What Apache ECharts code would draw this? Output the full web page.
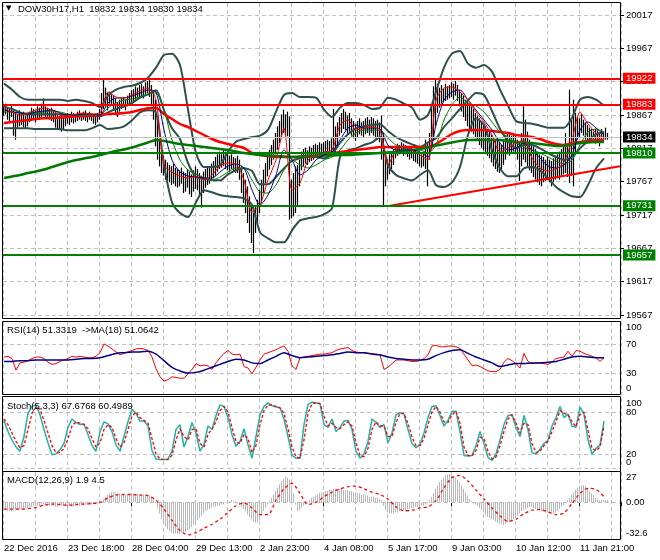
<!DOCTYPE html>
<html><head><meta charset="utf-8">
<script src="https://cdn.jsdelivr.net/npm/echarts@6/dist/echarts.min.js"></script>
<style>html,body{margin:0;padding:0;background:#fff}#c{width:660px;height:560px}</style>
</head><body><div id="c"></div>
<script>
// ---------- data ----------
const timeLabels = ['22 Dec 2016','23 Dec 18:00','28 Dec 04:00','29 Dec 13:00','2 Jan 23:00','4 Jan 08:00','5 Jan 17:00','9 Jan 03:00','10 Jan 12:00','11 Jan 21:00'];
const priceTicks = [19567,19617,19667,19717,19767,19817,19867,19917,19967,20017];
const redLevels = [19922, 19883];
const greenLevels = [19810, 19731, 19657];
const lastPrice = 19834;
const trendLine = [[193, 19731], [308, 19790]];

const highs = [19880,19884,19878,19876,19882,19875,19870,19868,19874,19870,
19872,19866,19868,19872,19878,19876,19874,19880,19878,19884,
19892,19880,19878,19876,19878,19874,19872,19868,19866,19868,
19864,19866,19870,19868,19872,19870,19868,19872,19874,19870,
19872,19874,19870,19872,19868,19866,19868,19870,19876,19900,
19920,19908,19900,19902,19898,19896,19892,19886,19890,19892,
19894,19890,19896,19900,19904,19906,19910,19908,19912,19914,
19910,19916,19918,19920,19912,19904,19890,19860,19830,19812,
19806,19800,19796,19792,19790,19794,19788,19786,19784,19788,
19782,19780,19786,19782,19778,19784,19790,19786,19780,19776,
19782,19786,19790,19788,19794,19798,19804,19808,19812,19808,
19814,19812,19810,19806,19808,19804,19802,19806,19800,19790,
19780,19770,19760,19745,19730,19720,19730,19740,19755,19770,
19785,19795,19805,19815,19822,19830,19840,19850,19858,19868,
19875,19868,19872,19865,19770,19780,19790,19792,19800,19812,
19816,19818,19814,19820,19818,19822,19824,19822,19826,19824,
19826,19828,19830,19828,19832,19876,19850,19856,19864,19870,
19876,19872,19866,19870,19862,19858,19854,19858,19862,19856,
19858,19862,19864,19860,19864,19862,19858,19860,19856,19866,
19840,19812,19800,19808,19812,19816,19820,19824,19822,19826,
19824,19822,19820,19818,19820,19816,19814,19812,19810,19808,
19812,19830,19826,19840,19880,19910,19920,19914,19908,19912,
19906,19914,19910,19912,19916,19914,19918,19912,19904,19900,
19896,19890,19888,19884,19880,19876,19870,19866,19862,19858,
19854,19850,19846,19842,19838,19834,19830,19832,19826,19822,
19828,19836,19840,19838,19836,19840,19836,19830,19826,19840,
19880,19860,19842,19830,19826,19820,19816,19812,19808,19806,
19804,19800,19804,19800,19798,19802,19806,19808,19812,19816,
19820,19840,19820,19905,19860,19890,19870,19864,19862,19868,
19860,19856,19852,19848,19846,19842,19846,19844,19840,19846,
19842,19848,19840];
const lows = [19866,19868,19860,19858,19864,19836,19830,19846,19850,19852,
19848,19846,19850,19856,19858,19860,19856,19862,19860,19864,
19866,19864,19862,19860,19858,19856,19848,19846,19844,19842,
19846,19850,19854,19852,19856,19854,19856,19858,19860,19858,
19860,19858,19856,19860,19858,19854,19852,19856,19860,19866,
19876,19880,19874,19884,19882,19876,19870,19864,19872,19876,
19878,19874,19880,19882,19886,19888,19890,19890,19894,19894,
19892,19898,19900,19894,19880,19860,19820,19800,19790,19780,
19776,19770,19768,19766,19762,19764,19760,19758,19760,19764,
19750,19752,19758,19748,19744,19752,19756,19754,19746,19728,
19750,19758,19762,19764,19768,19772,19776,19782,19786,19788,
19790,19786,19784,19782,19786,19782,19780,19780,19770,19750,
19735,19720,19705,19690,19675,19660,19690,19705,19720,19735,
19750,19765,19775,19785,19792,19800,19808,19815,19825,19832,
19840,19836,19835,19710,19712,19715,19720,19730,19760,19784,
19790,19794,19792,19796,19798,19800,19804,19802,19806,19804,
19808,19806,19810,19808,19810,19812,19806,19820,19836,19840,
19846,19844,19838,19842,19836,19832,19828,19834,19838,19836,
19834,19838,19840,19836,19840,19836,19832,19830,19826,19800,
19732,19760,19770,19778,19786,19792,19802,19806,19808,19810,
19806,19808,19804,19800,19802,19798,19796,19794,19790,19788,
19790,19786,19760,19800,19820,19830,19850,19870,19878,19884,
19886,19888,19890,19892,19894,19890,19896,19888,19880,19872,
19864,19858,19850,19846,19842,19838,19832,19828,19822,19818,
19814,19810,19806,19802,19796,19790,19786,19782,19780,19786,
19792,19800,19808,19806,19810,19812,19808,19800,19768,19790,
19800,19796,19790,19784,19780,19774,19770,19766,19762,19760,
19766,19768,19770,19766,19760,19766,19770,19772,19770,19776,
19778,19780,19774,19765,19776,19760,19810,19830,19834,19840,
19836,19830,19826,19828,19830,19826,19824,19830,19820,19828,
19828,19830,19830];

// indicator lines on the price panel, one value every 4 bars
const lineStep = 4;
const bbUpper = [19914,19905,19894,19890,19890,19890,19890,19890,19888,19890,19888,19885,19879,19896,19905,19909,19911,19915,19923,19938,19957,19959,19942,19875,19810,19789,19789,19792,19812,19827,19831,19834,19836,19845,19872,19897,19900,19894,19894,19893,19875,19864,19878,19885,19885,19882,19876,19878,19893,19890,19884,19878,19860,19867,19902,19938,19959,19963,19944,19938,19942,19932,19905,19881,19858,19855,19854,19851,19848,19848,19848,19863,19890,19894,19890,19881];
const bbMiddle = [19880,19876,19871,19868,19868,19868,19868,19868,19866,19867,19866,19866,19865,19871,19876,19880,19885,19893,19898,19904,19874,19847,19831,19795,19774,19772,19769,19769,19778,19784,19787,19783,19763,19763,19774,19787,19798,19802,19804,19804,19802,19808,19825,19838,19847,19850,19852,19853,19843,19834,19828,19823,19819,19826,19832,19849,19862,19876,19889,19900,19897,19873,19846,19828,19817,19822,19822,19817,19810,19804,19800,19804,19817,19828,19838,19841];
const bbLower = [19847,19847,19847,19847,19846,19846,19846,19846,19844,19844,19844,19847,19852,19846,19847,19850,19859,19871,19874,19871,19792,19736,19720,19714,19736,19754,19751,19747,19745,19744,19742,19732,19691,19682,19676,19676,19694,19709,19712,19714,19718,19727,19804,19814,19817,19822,19826,19834,19792,19777,19772,19769,19777,19784,19762,19759,19766,19789,19837,19862,19852,19814,19787,19775,19775,19787,19789,19784,19772,19759,19751,19745,19744,19762,19787,19802];
const maSlowRed = [19855,19856.5,19858,19859.5,19861,19862,19862.5,19863,19864,19865,19865.5,19866,19867,19868.5,19869,19870,19871.5,19874.5,19877,19877.5,19868.5,19861,19853.5,19849,19843,19837,19831,19826.5,19823.5,19820.5,19817.5,19810,19807,19805.5,19804,19804,19804,19804,19805.5,19805.5,19807,19808.5,19811.5,19813,19814.5,19816,19817.5,19819,19819,19819,19819,19819,19819,19819,19823.5,19831,19838.5,19843,19844.5,19844.5,19844.5,19843,19841.5,19840,19837,19835.5,19834,19831,19826.5,19823.5,19822,19825,19826.5,19828,19829.5,19829.5];
const maSlowGreen = [19772.5,19774.75,19777,19780,19782.25,19785.25,19789,19792.75,19796.5,19799.5,19801.75,19804,19807,19810,19813,19815.25,19818.25,19822,19825.75,19829.5,19828,19825.75,19823.5,19822,19820.5,19819,19817.5,19816,19814.5,19812.25,19810,19808.5,19807,19806.25,19805.5,19804.75,19804,19804.75,19805.5,19805.5,19806.25,19806.25,19807,19807,19807.75,19808.5,19809.25,19810,19810.75,19811.5,19813,19814.5,19816,19818.25,19821.25,19823.5,19825.75,19828,19829.5,19829.5,19829.5,19829.5,19829.5,19828,19826.5,19825.75,19825,19823.5,19822,19820.5,19820.5,19822.75,19825,19825.75,19826.5,19826.5];
const maFastRed = [19877.5,19871.5,19867,19870,19874.5,19877.5,19874.5,19867,19865.5,19868.5,19870,19868.5,19870,19901.5,19894,19892.5,19897,19903,19907.5,19889.5,19792,19781.5,19775.5,19772.5,19774,19769.5,19777,19790.5,19795,19793.5,19769.5,19721.5,19732,19769.5,19799.5,19847.5,19754.5,19765,19799.5,19807,19811.5,19814.5,19852,19859.5,19844.5,19847.5,19849,19844.5,19792,19814.5,19819,19814.5,19807,19799.5,19889.5,19907.5,19909,19901.5,19889.5,19871.5,19856.5,19837,19811.5,19817.5,19825,19829.5,19802.5,19787.5,19783,19786,19796.5,19829.5,19871.5,19853.5,19840,19832.5];
const maBlue = [19874.5,19871.5,19870,19868.5,19871.5,19873,19874.5,19870,19867,19867,19868.5,19868.5,19867,19885,19892.5,19892.5,19895.5,19900,19904.5,19901.5,19844.5,19799.5,19781.5,19775.5,19774,19772.5,19772.5,19781.5,19790.5,19793.5,19787.5,19754.5,19732,19747,19777,19814.5,19799.5,19777,19784.5,19799.5,19807,19811.5,19829.5,19847.5,19852,19847.5,19847.5,19846,19822,19814.5,19814.5,19814.5,19811.5,19804,19852,19889.5,19901.5,19904.5,19889.5,19874.5,19859.5,19844.5,19825,19814.5,19817.5,19825,19814.5,19802.5,19790.5,19787.5,19792,19807,19844.5,19856.5,19847.5,19837];
const maGreen = [19871.5,19871.5,19870,19870,19870,19871.5,19873,19871.5,19868.5,19867,19867,19867,19867,19877.5,19885,19889.5,19891,19894,19898.5,19900,19874.5,19829.5,19799.5,19784.5,19778.5,19772.5,19769.5,19774,19781.5,19787.5,19787.5,19769.5,19751.5,19750,19762,19784.5,19799.5,19792,19787.5,19792,19799.5,19804,19814.5,19829.5,19840,19844.5,19844.5,19844.5,19832.5,19822,19817.5,19814.5,19814.5,19810,19822,19859.5,19882,19894,19885,19880.5,19871.5,19856.5,19841.5,19834,19825,19819,19814.5,19810,19804,19798,19793.5,19799.5,19822,19841.5,19846,19841.5];

// RSI(14) every 2 bars, its MA(18) every 4 bars
const rsiStep = 2;
const rsi = [52,53,50,34,44,45,47,50,52,52,50,45,42,43,46,48,50,53,52,53,52,51,51,53,58,70,67,63,59,55,57,59,61,63,64,63,61,52,36,25,19,21,25,24,23,23,29,35,43,40,41,40,35,44,51,57,61,56,55,56,39,37,29,38,48,56,58,60,62,65,67,60,40,35,51,52,53,54,55,56,56,57,58,61,63,64,65,61,59,58,58,57,57,56,55,35,38,43,48,48,48,47,46,46,47,50,55,67,68,66,66,67,67,66,64,56,48,40,41,39,36,33,32,32,35,45,50,47,43,37,57,46,43,44,44,43,42,45,50,51,52,60,53,61,60,57,55,53,51,46,51];
const rsiMaStep = 4;
const rsiMa = [46,46,47,47,48,48,48,48,48,49,50,50,51,54,57,58,59,59,60,56,47,38,33,30,31,34,38,42,46,49,48,44,43,48,53,58,54,51,52,53,54,55,57,59,58,58,56,55,52,50,49,48,48,49,54,58,61,62,57,52,48,44,39,41,43,43,44,44,45,46,49,52,53,52,51,51];

// Stochastic(5,3,3) every 2 bars
const stochStep = 2;
const stochK = [67,52,40,30,24,45,78,88,90,76,55,36,19,20,26,35,58,70,65,62,63,48,32,24,52,66,63,52,33,24,45,66,84,78,67,67,60,25,13,12,12,13,24,55,62,30,45,65,50,24,34,60,55,75,90,88,72,48,31,38,56,33,14,45,76,88,93,89,87,86,70,45,18,14,14,62,91,94,93,92,62,58,70,52,58,67,68,55,24,14,20,38,70,65,58,62,36,50,76,79,77,55,35,29,34,50,72,88,89,75,60,68,81,81,52,18,17,18,32,52,35,15,11,20,40,62,75,76,58,45,75,55,22,20,27,35,40,60,72,88,72,77,60,58,87,77,40,20,28,33,67];
const stochD = [70,62,50,38,29,32,55,78,87,84,68,50,32,22,22,28,42,60,66,64,62,56,42,30,36,55,62,58,42,30,36,55,74,80,72,68,64,42,20,13,12,12,18,40,56,45,40,55,56,35,30,48,56,66,82,88,80,58,38,35,48,42,22,32,62,82,90,90,88,86,78,56,30,16,14,40,78,92,93,92,74,60,64,58,56,62,66,60,36,18,16,28,55,66,60,60,45,45,65,78,78,64,44,32,32,42,62,80,88,80,66,65,76,81,64,30,18,17,25,44,42,24,13,16,32,52,70,76,64,50,64,62,35,22,24,32,38,52,66,82,78,76,66,59,76,80,54,28,25,30,60];

// MACD(12,26,9): histogram every bar, signal every 4 bars
const macdHist = [-7,-7,-8,-8,-8,-7,-7,-7,-6,-6,
-6,-5,-5,-4,-4,
-3,-3,-3,-3,-2,-2,-2,-3,-3,-3,-3,-4,-4,-3,-3,-3,-3,-3,-3,-4,-4,-3,-3,-3,-3,-3,-2,-2,-2,-2,-1,-1,-1,-1,
1,3,5,7,8,9,9,9,8,8,
7,7,7,7,7,7,7,7,7,7,7,7,7,6,6,5,3,
0,-5,-10,-15,-19,
-22,-24,-26,-27,-28,-28,-28,-28,-27,-27,-26,-25,-24,
-22,-20,-18,-16,-14,-12,-10,-8,-7,-6,-5,-4,-4,-3,-3,-2,-2,
0,1,1,2,1,1,0,
-2,-4,-6,-8,-11,-13,-15,-17,-18,-18,-16,-12,
-8,-5,-2,1,4,7,
10,13,16,19,21,23,22,20,15,
8,-2,-8,-7,-5,
-3,-2,0,2,4,
5,6,7,8,9,9,10,10,
11,11,12,12,12,12,12,11,11,11,10,10,9,9,
8,8,7,7,6,6,5,5,5,4,4,3,2,
-3,-7,-9,-10,
-10,-10,-9,-9,-8,-8,-7,-7,-6,-6,-5,-5,-4,-4,-4,-3,-3,-2,0,
2,5,8,12,
15,18,20,22,24,25,25,24,23,22,
20,18,15,12,9,6,3,1,
-1,-2,-3,-5,
-7,-9,-11,-13,-14,-15,-16,-17,-18,-19,-19,-20,-19,-18,-17,-16,
-15,-13,-12,-10,-8,-7,-6,-5,-4,
-4,-5,-6,-6,-7,-8,-8,-9,-9,-10,-10,-10,-9,-8,-6,-4,-2,
0,2,4,
7,9,11,13,14,15,15,14,
12,10,8,6,4,3,2,
2,2,2,2];
const macdSignalStep = 4;
const macdSignal = [-6,-6,-6,-5.5,-4.5,-2.5,-1.5,-2,-2.5,-2,-1.5,-1,0,4,6.5,7,7,6.5,6,2,-6,-16,-25,-29,-27,-23,-19.5,-15,-9,-3,-0.5,-5,-11,-11,2,12,17,8,-2,0,5,9,12,14,14.5,12,9,7,3,-4,-7.5,-7,-5,-4,1.5,13,22,24,19,11,3,-5,-12,-17,-15,-10,-7,-6.5,-8.5,-11,-9.5,-1,8,12.5,11.5,5];

const rsiLevels = [70, 30];
const stochLevels = [80, 20, 0];
const rsiInnerLabels = [30, 70];
const stochInnerLabels = [20, 80];
const edgeLabels = [0, 100];
const macdLabels = [-32.6, 0, 27];

// ---------- chart ----------
const N = 309;
const cats = Array.from({length: N}, (_, i) => 'b' + i);
const pts = (arr, step) => arr.map((v, k) => [k * step, v]);
const FONT = 'Liberation Sans';
const FS = 9.5;
const gridDash = {color: '#c0c0c0', type: [4, 3], width: 1};
const SLATE = '#2f4f4f';

function xAxisFor(g, labels) {
  return {
    type: 'category', gridIndex: g, data: cats, boundaryGap: true,
    axisLine: {show: false},
    axisTick: labels ? {show: true, interval: (i) => i % 32 === 0, length: 4, lineStyle: {color: '#000'}} : {show: false},
    axisLabel: labels ? {show: true, interval: (i) => i % 32 === 0, hideOverlap: false,
      formatter: (v, i) => (i % 32 === 0 ? (timeLabels[i / 32] || '') : ''),
      align: 'left', margin: 4, fontSize: FS, fontFamily: FONT, color: '#000'} : {show: false},
    splitLine: {show: true, interval: (i) => i % 16 === 0, lineStyle: gridDash}
  };
}
const richEdge = (top, bottom) => ({
  t: {padding: [top, 0, 0, 0], fontSize: FS, fontFamily: FONT, color: '#000'},
  b: {padding: [0, 0, bottom, 0], fontSize: FS, fontFamily: FONT, color: '#000'}
});
function subY(g, min, max, labelVals, fmt, top, bottom) {
  return {
    type: 'value', gridIndex: g, position: 'right', offset: 0, min: min, max: max,
    splitLine: {show: false}, axisLine: {show: false}, axisTick: {show: false},
    axisLabel: {customValues: labelVals, margin: 5, fontSize: FS, fontFamily: FONT, color: '#000',
      hideOverlap: false, showMinLabel: true, showMaxLabel: true,
      formatter: fmt, rich: richEdge(top, bottom)}
  };
}
const edgeFmt = v => v === 100 ? '{t|100}' : '{b|0}';
const line = (name, data, g, color, width, extra) => Object.assign({
  type: 'line', name: name, xAxisIndex: g, yAxisIndex: g, data: data,
  symbol: 'none', showSymbol: false, smooth: 0.25, silent: true, animation: false,
  lineStyle: {color: color, width: width}
}, extra || {});

const levelItems = [].concat(
  redLevels.map(v => ({c: '#ff0000', v: v, w: 2})),
  greenLevels.map(v => ({c: '#008000', v: v, w: 2}))
).map(o => ({
  yAxis: o.v,
  lineStyle: {color: o.c, width: o.w, type: 'solid'},
  label: {show: true, position: 'end', distance: 2, formatter: String(o.v), color: '#fff',
    backgroundColor: o.c, padding: [1, 3, 0, 3], fontSize: FS, fontFamily: FONT}
}));
levelItems.push({
  yAxis: lastPrice,
  lineStyle: {color: '#c0c0c0', width: 1, type: 'solid'},
  label: {show: true, position: 'end', distance: 2, formatter: String(lastPrice), color: '#fff',
    backgroundColor: '#000', padding: [1, 3, 0, 3], fontSize: FS, fontFamily: FONT}
});

const option = {
  animation: false,
  backgroundColor: '#fff',
  title: [
    {text: '▼', left: 6, top: 5, padding: 0, textStyle: {fontSize: 7, color: '#000', fontWeight: 'normal', fontFamily: 'DejaVu Sans'}},
    {text: 'DOW30H17,H1  19832 19834 19830 19834', left: 18, top: 4, padding: 0, textStyle: {fontSize: FS, color: '#000', fontWeight: 'normal', fontFamily: FONT}},
    {text: 'RSI(14) 51.3319  ->MA(18) 51.0642', left: 7, top: 325, padding: 0, textStyle: {fontSize: FS, color: '#000', fontWeight: 'normal', fontFamily: FONT}},
    {text: 'Stoch(5,3,3) 67.6768 60.4989', left: 7, top: 401, padding: 0, textStyle: {fontSize: FS, color: '#000', fontWeight: 'normal', fontFamily: FONT}},
    {text: 'MACD(12,26,9) 1.9 4.5', left: 7, top: 475, padding: 0, textStyle: {fontSize: FS, color: '#000', fontWeight: 'normal', fontFamily: FONT}}
  ],
  grid: [
    {left: 3, top: 3, width: 618, height: 315, outerBoundsMode: 'none'},
    {left: 3, top: 322, width: 618, height: 73, outerBoundsMode: 'none'},
    {left: 3, top: 398, width: 618, height: 70, outerBoundsMode: 'none'},
    {left: 3, top: 472, width: 618, height: 67, outerBoundsMode: 'none'}
  ],
  xAxis: [xAxisFor(0, false), xAxisFor(1, false), xAxisFor(2, false), xAxisFor(3, true)],
  yAxis: [
    {type: 'value', gridIndex: 0, position: 'right', min: 19562.5, max: 20035,
      splitLine: {show: false}, axisLine: {show: false},
      axisTick: {show: true, length: 3, customValues: priceTicks, lineStyle: {color: '#000'}},
      axisLabel: {customValues: priceTicks, margin: 5, fontSize: FS, fontFamily: FONT, color: '#000',
        hideOverlap: false, formatter: v => String(v)}},
    subY(1, 0, 100, rsiInnerLabels, v => String(v), 0, 0),
    subY(2, 0, 100, stochInnerLabels, v => String(v), 0, 0),
    subY(3, -32.6, 27, macdLabels, v => v === 27 ? '{t|27}' : (v === 0 ? '0.00' : '{b|' + v + '}'), 11, 12),
    subY(1, 0, 100, edgeLabels, edgeFmt, 11, 13),
    subY(2, 0, 100, edgeLabels, edgeFmt, 10, 12)
  ],
  graphic: [
    {type: 'rect', silent: true, z: 100, shape: {x: 2.5, y: 2.5, width: 618, height: 316}, style: {fill: null, stroke: '#000', lineWidth: 1}},
    {type: 'rect', silent: true, z: 100, shape: {x: 2.5, y: 321.5, width: 618, height: 73}, style: {fill: null, stroke: '#000', lineWidth: 1}},
    {type: 'rect', silent: true, z: 100, shape: {x: 2.5, y: 396.5, width: 618, height: 75}, style: {fill: null, stroke: '#000', lineWidth: 1}},
    {type: 'rect', silent: true, z: 100, shape: {x: 2.5, y: 471.5, width: 618, height: 68}, style: {fill: null, stroke: '#000', lineWidth: 1}}
  ],
  series: [
    {
      type: 'custom', name: 'price', xAxisIndex: 0, yAxisIndex: 0, silent: true, animation: false, z: 1,
      data: highs.map((h, i) => [i, h, lows[i]]),
      encode: {x: 0, y: [1, 2]},
      renderItem: (p, api) => {
        const a = api.coord([api.value(0), api.value(1)]);
        const b = api.coord([api.value(0), api.value(2)]);
        const x = Math.round(a[0]) - 0.5;
        return {type: 'line', shape: {x1: x, y1: a[1], x2: x, y2: b[1]}, style: {stroke: '#000', lineWidth: 1.2}};
      }
    },
    line('bbUpper', pts(bbUpper, lineStep), 0, SLATE, 2, {
      markLine: {silent: true, z: 1, symbol: ['none', 'none'], animation: false, label: {show: false},
        lineStyle: gridDash, data: priceTicks.map(v => ({yAxis: v}))}
    }),
    line('bbMiddle', pts(bbMiddle, lineStep), 0, SLATE, 2),
    line('bbLower', pts(bbLower, lineStep), 0, SLATE, 2),
    line('maSlowRed', pts(maSlowRed, lineStep), 0, '#ff0000', 2.5),
    line('maSlowGreen', pts(maSlowGreen, lineStep), 0, '#007800', 2.5, {
      markLine: {silent: true, symbol: ['none', 'none'], animation: false, data: levelItems}
    }),
    line('maGreen', pts(maGreen, lineStep), 0, '#008000', 1),
    line('maBlue', pts(maBlue, lineStep), 0, '#00008b', 1),
    line('maFastRed', pts(maFastRed, lineStep), 0, '#ff0000', 1),
    line('trend', trendLine, 0, '#ff0000', 2, {smooth: false, z: 4}),

    line('rsi', pts(rsi, rsiStep), 1, '#ff0000', 1, {smooth: false,
      markLine: {silent: true, z: 1, symbol: ['none', 'none'], animation: false, label: {show: false},
        lineStyle: gridDash, data: rsiLevels.map(v => ({yAxis: v}))}}),
    line('rsiMa', pts(rsiMa, rsiMaStep), 1, '#000080', 1.5),

    line('stochK', pts(stochK, stochStep), 2, '#20b2aa', 1.5, {smooth: false,
      markLine: {silent: true, z: 1, symbol: ['none', 'none'], animation: false, label: {show: false},
        lineStyle: gridDash, data: stochLevels.map(v => ({yAxis: v}))}}),
    line('stochD', pts(stochD, stochStep), 2, '#ff0000', 1.3, {smooth: false, lineStyle: {color: '#ff0000', width: 1.3, type: [3, 2]}}),

    {
      type: 'custom', name: 'macdHist', xAxisIndex: 3, yAxisIndex: 3, silent: true, animation: false, z: 1,
      data: macdHist.map((v, i) => [i, v]),
      encode: {x: 0, y: 1},
      renderItem: (p, api) => {
        const a = api.coord([api.value(0), api.value(1)]);
        const z = api.coord([api.value(0), 0]);
        const x = Math.round(a[0]) - 1;
        return {type: 'rect', shape: {x: x, y: Math.min(a[1], z[1]), width: 1, height: Math.max(1, Math.abs(a[1] - z[1]))}, style: {fill: '#b8b8b8'}};
      }
    },
    line('macdSignal', pts(macdSignal, macdSignalStep), 3, '#ff0000', 1.3, {
      lineStyle: {color: '#ff0000', width: 1.3, type: [3, 3]},
      markLine: {silent: true, z: 1, symbol: ['none', 'none'], animation: false, label: {show: false},
        lineStyle: gridDash, data: [{yAxis: 0}]}
    })
  ]
};
const chart = echarts.init(document.getElementById('c'), null, {renderer: 'canvas'});
chart.setOption(option);
</script>
</body></html>
